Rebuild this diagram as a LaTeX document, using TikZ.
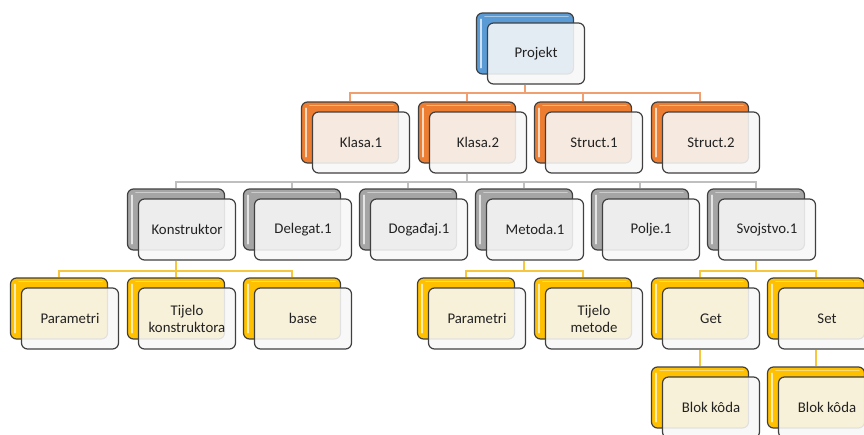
\documentclass[tikz,border=0pt]{standalone}
\usepackage{fontspec}
\setmainfont{Carlito}
\usetikzlibrary{calc}
\definecolor{cblue}{HTML}{5B9BD5}
\definecolor{corange}{HTML}{ED7D31}
\definecolor{cgrey}{HTML}{A5A5A5}
\definecolor{cgold}{HTML}{FFC000}
\definecolor{boxline}{HTML}{404040}
\definecolor{frontfill}{HTML}{F8F8F8}
\definecolor{textcol}{HTML}{222222}
\definecolor{lorange}{HTML}{F0A070}
\definecolor{lgrey}{HTML}{BFBFBF}
\definecolor{lgold}{HTML}{F6C63E}
\tikzset{
 backbox/.style={draw=boxline, line width=1.2pt, rounded corners=6pt, minimum width=97pt, minimum height=61pt, inner sep=0pt},
 hilite/.style={draw=white, draw opacity=0.7, line width=1.8pt, line cap=round},
 tophilite/.style={draw=white, draw opacity=0.45, line width=1.4pt, line cap=round},
 frontbox/.style={draw=boxline, line width=1.2pt, rounded corners=6pt, fill=frontfill, fill opacity=0.88, text opacity=1, minimum width=97pt, minimum height=61pt, inner sep=0pt, align=center, font=\fontsize{14.8}{17}\selectfont, text=textcol},
 conn/.style={line width=1.1pt}
}
\newcommand\orgbox[5]{%
 \node[backbox, fill=#4] (#1) at (#2, #3+30.5) {};
 \draw[hilite] ([xshift=5pt,yshift=-7pt]#1.north west) -- ([xshift=5pt,yshift=7pt]#1.south west);
 \draw[tophilite] ([xshift=9pt,yshift=-4pt]#1.north west) -- ([xshift=-6pt,yshift=-4pt]#1.north east);
 \node[frontbox] (#1f) at (#2+11, #3+40.5) {#5};
}
\begin{document}
\begin{tikzpicture}[x=1pt,y=-1pt]
\clip (0,0) rectangle (864,434);
\fill[white] (0,0) rectangle (864,434);
\coordinate (h1) at (0,93);
\coordinate (h2) at (0,182);
\coordinate (h3) at (0,271);
% level 1
\orgbox{pj}{525}{13}{cblue}{Projekt}
% level 2
\orgbox{k1}{350}{102}{corange}{Klasa.1}
\orgbox{k2}{467}{102}{corange}{Klasa.2}
\orgbox{s1}{583}{102}{corange}{Struct.1}
\orgbox{s2}{700}{102}{corange}{Struct.2}
% level 3
\orgbox{ko}{176}{189}{cgrey}{Konstruktor}
\orgbox{de}{292}{189}{cgrey}{Delegat.1}
\orgbox{do}{408}{189}{cgrey}{Događaj.1}
\orgbox{me}{524}{189}{cgrey}{Metoda.1}
\orgbox{po}{640}{189}{cgrey}{Polje.1}
\orgbox{sv}{756}{189}{cgrey}{Svojstvo.1}
% level 4
\orgbox{pa}{59}{278}{cgold}{Parametri}
\orgbox{tk}{176}{278}{cgold}{Tijelo\\konstruktora}
\orgbox{ba}{292}{278}{cgold}{base}
\orgbox{pm}{466}{278}{cgold}{Parametri}
\orgbox{tm}{583}{278}{cgold}{Tijelo\\metode}
\orgbox{ge}{700}{278}{cgold}{Get}
\orgbox{se}{816}{278}{cgold}{Set}
% level 5
\orgbox{b1}{700}{367}{cgold}{Blok kôda}
\orgbox{b2}{816}{367}{cgold}{Blok kôda}
% connectors
\foreach \c in {k1,k2,s1,s2}
  \draw[conn, draw=lorange] (pj.center |- pjf.south) -- (pj.center |- h1) -| (\c.north);
\foreach \c in {ko,de,do,me,po,sv}
  \draw[conn, draw=lgrey] (k2.center |- k2f.south) -- (k2.center |- h2) -| (\c.north);
\foreach \c in {pa,tk,ba}
  \draw[conn, draw=lgold] (ko.center |- kof.south) -- (ko.center |- h3) -| (\c.north);
\foreach \c in {pm,tm}
  \draw[conn, draw=lgold] (me.center |- mef.south) -- (me.center |- h3) -| (\c.north);
\foreach \c in {ge,se}
  \draw[conn, draw=lgold] (sv.center |- svf.south) -- (sv.center |- h3) -| (\c.north);
\draw[conn, draw=lgold] (ge.center |- gef.south) -- (b1.north);
\draw[conn, draw=lgold] (se.center |- sef.south) -- (b2.north);
\end{tikzpicture}
\end{document}
